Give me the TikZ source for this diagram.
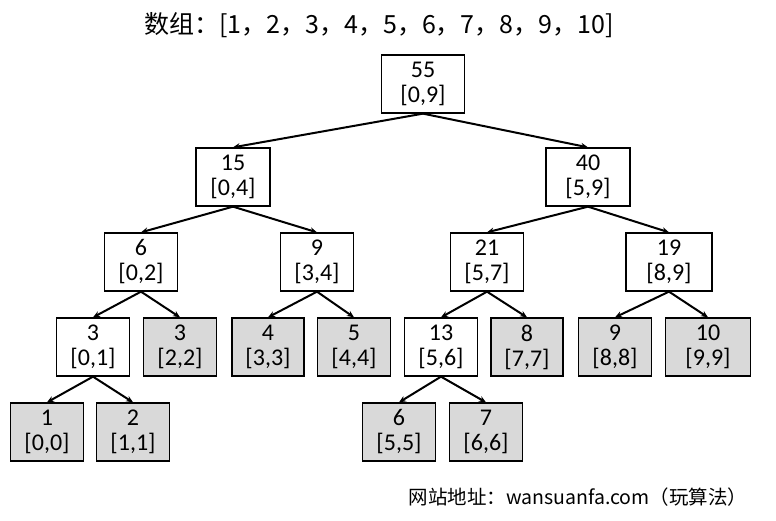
\documentclass[tikz,border=0pt]{standalone}
\usepackage{fontspec}
\setmainfont{Carlito}
\newfontfamily\cjk{Noto Sans CJK SC}
\usetikzlibrary{arrows.meta}
\definecolor{leafgray}{HTML}{D9D9D9}
\begin{document}
\begin{tikzpicture}[x=1pt,y=-1pt,
  seg/.style={draw=black,line width=1.3pt,minimum height=58pt,align=center,inner sep=0pt,font=\fontsize{24}{25}\selectfont},
  leaf/.style={seg,fill=leafgray},
  link/.style={line width=2pt,-{Stealth[length=7pt,width=6pt]}}]
\useasboundingbox (0,0) rectangle (776,521);
\node[font=\cjk\fontsize{25}{28}\selectfont] (title) at (379,25) {数组：[1，2，3，4，5，6，7，8，9，10]};
\node[font=\cjk\fontsize{19.5}{22}\selectfont] (foot) at (578,497) {网站地址：wansuanfa.com（玩算法）};
\node[seg,minimum width=83pt] (n0) at (423,84) {55\\{}[0,9]};
\node[seg,minimum width=74pt] (n1) at (233,177) {15\\{}[0,4]};
\node[seg,minimum width=84pt] (n2) at (588,177) {40\\{}[5,9]};
\node[seg,minimum width=73pt] (n3) at (141,262) {6\\{}[0,2]};
\node[seg,minimum width=73pt] (n4) at (317,262) {9\\{}[3,4]};
\node[seg,minimum width=73pt] (n5) at (487,262) {21\\{}[5,7]};
\node[seg,minimum width=86pt] (n6) at (669,262) {19\\{}[8,9]};
\node[seg,minimum width=73pt] (n7) at (93,347) {3\\{}[0,1]};
\node[leaf,minimum width=73pt] (n8) at (180,347) {3\\{}[2,2]};
\node[leaf,minimum width=72pt] (n9) at (268,347) {4\\{}[3,3]};
\node[leaf,minimum width=73pt] (n10) at (354,347) {5\\{}[4,4]};
\node[seg,minimum width=73pt] (n11) at (441,347) {13\\{}[5,6]};
\node[leaf,minimum width=72pt] (n12) at (527,347) {8\\{}[7,7]};
\node[leaf,minimum width=73pt] (n13) at (615,347) {9\\{}[8,8]};
\node[leaf,minimum width=85pt] (n14) at (708,347) {10\\{}[9,9]};
\node[leaf,minimum width=73pt] (n15) at (47,432) {1\\{}[0,0]};
\node[leaf,minimum width=73pt] (n16) at (133,432) {2\\{}[1,1]};
\node[leaf,minimum width=73pt] (n17) at (399,432) {6\\{}[5,5]};
\node[leaf,minimum width=73pt] (n18) at (486,432) {7\\{}[6,6]};
\foreach \p/\c in {n0/n1,n0/n2,n1/n3,n1/n4,n2/n5,n2/n6,n3/n7,n3/n8,n4/n9,n4/n10,n5/n11,n5/n12,n6/n13,n6/n14,n7/n15,n7/n16,n11/n17,n11/n18}
  \draw[link] (\p.south) -- (\c.north);
\end{tikzpicture}
\end{document}
